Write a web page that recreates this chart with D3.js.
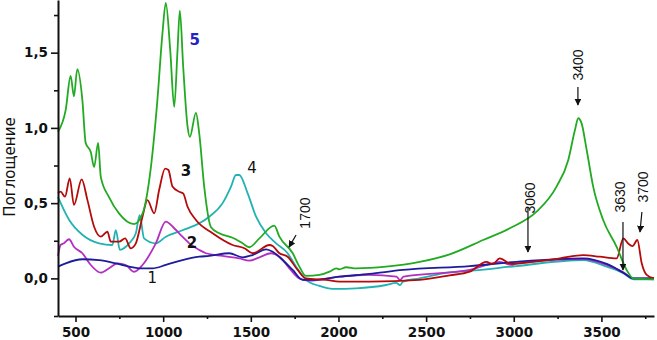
<!DOCTYPE html>
<html>
<head>
<meta charset="utf-8">
<script src="https://cdn.jsdelivr.net/npm/d3@7"></script>
<style>
  body { margin: 0; background: #fff; }
</style>
</head>
<body>
<div id="chart"></div>
<script>
// wavenumber (cm-1) / absorbance pairs
var wn1  = [400, 444, 539, 634, 730, 806, 863, 939, 1015, 1110, 1206, 1263, 1377, 1453, 1510, 1587, 1625, 1682, 1739, 1796, 1853, 2006, 2177, 2368, 2749, 3015, 3396, 3530, 3625, 3682, 3800];
var abs1 = [0.078, 0.10, 0.127, 0.122, 0.10, 0.078, 0.067, 0.067, 0.089, 0.122, 0.144, 0.149, 0.167, 0.14, 0.155, 0.193, 0.177, 0.122, 0.056, -0.01, -0.01, 0.011, 0.03, 0.056, 0.082, 0.11, 0.133, 0.096, 0.038, 0.0, 0.0];

var wn2  = [400, 415, 434, 463, 491, 539, 587, 644, 691, 739, 787, 834, 882, 958, 1015, 1063, 1110, 1149, 1206, 1244, 1339, 1434, 1491, 1549, 1615, 1663, 1720, 1777, 1834, 2006, 2177, 2330, 2351, 2372, 2749, 2844, 2920, 2987, 3015, 3396, 3530, 3625, 3682, 3800];
var abs2 = [0.15, 0.222, 0.233, 0.26, 0.21, 0.167, 0.089, 0.038, 0.067, 0.10, 0.089, 0.044, 0.089, 0.233, 0.377, 0.333, 0.277, 0.233, 0.189, 0.167, 0.149, 0.133, 0.118, 0.14, 0.167, 0.144, 0.067, 0.0, -0.015, 0.011, 0.023, 0.011, -0.01, 0.011, 0.056, 0.09, 0.11, 0.09, 0.10, 0.128, 0.09, 0.04, 0.0, 0.0];

var wn3  = [400, 415, 440, 467, 491, 535, 568, 606, 644, 682, 701, 749, 783, 815, 844, 882, 910, 949, 977, 1011, 1030, 1053, 1091, 1114, 1139, 1187, 1282, 1396, 1463, 1511, 1606, 1625, 1663, 1710, 1767, 1815, 1929, 2006, 2177, 2463, 2634, 2749, 2844, 2880, 2920, 2987, 3110, 3263, 3396, 3491, 3587, 3625, 3654, 3678, 3705, 3730, 3758, 3800];
var abs3 = [0.565, 0.576, 0.543, 0.665, 0.488, 0.658, 0.52, 0.343, 0.277, 0.31, 0.244, 0.244, 0.266, 0.20, 0.233, 0.41, 0.52, 0.433, 0.587, 0.73, 0.72, 0.61, 0.576, 0.565, 0.476, 0.388, 0.30, 0.222, 0.20, 0.167, 0.222, 0.215, 0.167, 0.144, 0.056, 0.0, -0.01, -0.022, -0.022, -0.01, 0.02, 0.045, 0.11, 0.095, 0.133, 0.096, 0.11, 0.133, 0.155, 0.144, 0.133, 0.266, 0.23, 0.215, 0.255, 0.10, 0.023, 0.0];

var wn4  = [400, 463, 539, 634, 710, 730, 753, 806, 844, 866, 891, 958, 1015, 1110, 1206, 1263, 1339, 1387, 1415, 1434, 1482, 1530, 1587, 1644, 1710, 1758, 1815, 1891, 1967, 2101, 2272, 2330, 2351, 2368, 2463, 2634, 2749, 3015, 3396, 3530, 3625, 3682, 3800];
var abs4 = [0.54, 0.39, 0.29, 0.233, 0.222, 0.32, 0.19, 0.233, 0.30, 0.42, 0.266, 0.233, 0.277, 0.32, 0.366, 0.41, 0.50, 0.61, 0.687, 0.687, 0.565, 0.41, 0.30, 0.233, 0.167, 0.078, -0.01, -0.05, -0.07, -0.066, -0.044, -0.03, -0.045, -0.022, 0.0, 0.04, 0.05, 0.082, 0.122, 0.078, 0.034, -0.006, -0.006];

var wn5  = [400, 444, 472, 491, 510, 539, 558, 587, 606, 629, 644, 691, 749, 834, 882, 930, 967, 996, 1015, 1040, 1063, 1082, 1095, 1114, 1139, 1152, 1187, 1206, 1234, 1273, 1320, 1396, 1453, 1491, 1549, 1634, 1663, 1739, 1777, 1815, 1891, 1949, 1987, 2006, 2044, 2101, 2272, 2463, 2634, 2825, 2977, 3130, 3244, 3311, 3349, 3368, 3387, 3416, 3453, 3510, 3587, 3644, 3682, 3800];
var abs5 = [0.975, 1.12, 1.345, 1.21, 1.39, 1.185, 0.90, 0.84, 0.74, 0.90, 0.675, 0.54, 0.43, 0.36, 0.43, 0.74, 1.185, 1.63, 1.83, 1.52, 1.14, 1.52, 1.78, 1.41, 1.01, 0.94, 1.10, 0.96, 0.61, 0.34, 0.30, 0.27, 0.233, 0.207, 0.266, 0.35, 0.277, 0.167, 0.078, 0.016, 0.023, 0.045, 0.067, 0.06, 0.074, 0.067, 0.078, 0.11, 0.16, 0.255, 0.333, 0.443, 0.61, 0.787, 0.986, 1.064, 1.03, 0.853, 0.61, 0.388, 0.21, 0.056, 0.0, -0.006];

var seriesColors = ['#1c1c9c', '#b32fc2', '#b40a0a', '#22b2b2', '#22aa22'];

var xTicks = [500, 1000, 1500, 2000, 2500, 3000, 3500];
var yTicks = [0, 0.5, 1.0, 1.5];

// curve numbers and peak marks
var curveLabels = [
    { text: '5', wn: 1150, a: 1.55, bold: true, color: '#2222c8' },
    { text: '3', wn: 1100, a: 0.68, bold: true, color: '#111' },
    { text: '4', wn: 1480, a: 0.70, bold: false, color: '#111' },
    { text: '2', wn: 1135, a: 0.20, bold: true, color: '#111' },
    { text: '1', wn: 910, a: -0.03, bold: false, color: '#111' }
];
var peakMarks = [
    { text: '1700', wn: 1810, a: 0.434, fromWn: 1758, fromA: 0.288, toWn: 1718, toA: 0.208 },
    { text: '3060', wn: 3092, a: 0.534, fromWn: 3081, fromA: 0.474, toWn: 3081, toA: 0.175 },
    { text: '3400', wn: 3366, a: 1.418, fromWn: 3366, fromA: 1.272, toWn: 3366, toA: 1.152 },
    { text: '3630', wn: 3606, a: 0.541, fromWn: 3623, fromA: 0.375, toWn: 3623, toA: 0.056 },
    { text: '3700', wn: 3737, a: 0.607, fromWn: 3731, fromA: 0.441, toWn: 3720, toA: 0.308 }
];

var width = 657, height = 340;

var svg = d3.select('#chart')
    .append('svg')
    .attr('width', width)
    .attr('height', height);

var xScale = d3.scaleLinear()
    .domain([400, 3800])
    .range([58, 654]);

var yScale = d3.scaleLinear()
    .domain([-0.25, 1.85])
    .range([316, 0]);

svg.append('defs').append('marker')
    .attr('id', 'arrow')
    .attr('viewBox', '0 0 10 10')
    .attr('refX', 9)
    .attr('refY', 5)
    .attr('markerWidth', 7)
    .attr('markerHeight', 7)
    .attr('markerUnits', 'userSpaceOnUse')
    .attr('orient', 'auto')
    .append('path')
    .attr('d', 'M0,0 L10,5 L0,10 Z')
    .attr('fill', '#111');

var line = d3.line()
    .x(d => xScale(d[0]))
    .y(d => yScale(d[1]))
    .curve(d3.curveMonotoneX);

var allWn = [wn1, wn2, wn3, wn4, wn5];
var allAbs = [abs1, abs2, abs3, abs4, abs5];
var drawOrder = [3, 1, 0, 2, 4];

for (let k = 0; k < drawOrder.length; k++) {
    var i = drawOrder[k];
    var pts = allWn[i].map((w, j) => [w, allAbs[i][j]]);
    svg.append('path')
        .datum(pts)
        .attr('d', line)
        .attr('fill', 'none')
        .attr('stroke', seriesColors[i])
        .attr('stroke-width', 1.8)
        .attr('stroke-linejoin', 'round');
}

// axes
var xAxis = svg.append('g')
    .attr('class', 'x-axis')
    .attr('transform', 'translate(0, 316)')
    .call(d3.axisBottom(xScale).tickValues(xTicks).tickSize(6).tickPadding(5).tickSizeOuter(0)
        .tickFormat(d3.format('d')));

svg.append('g')
    .attr('transform', 'translate(0, 316)')
    .call(d3.axisBottom(xScale).tickValues(d3.range(750, 3800, 500)).tickSize(3).tickFormat('').tickSizeOuter(0))
    .select('.domain').remove();

var yAxis = svg.append('g')
    .attr('class', 'y-axis')
    .attr('transform', 'translate(58, 0)')
    .call(d3.axisLeft(yScale).tickValues(yTicks).tickSize(7).tickPadding(3).tickSizeOuter(0)
        .tickFormat(d => d3.format('.1f')(d).replace('.', ',')));

svg.append('g')
    .attr('transform', 'translate(58, 0)')
    .call(d3.axisLeft(yScale).tickValues([-0.25, 0.25, 0.75, 1.25, 1.75]).tickSize(4).tickFormat('').tickSizeOuter(0))
    .select('.domain').remove();

svg.selectAll('.x-axis .domain, .y-axis .domain')
    .attr('stroke', '#111')
    .attr('stroke-width', 2);
svg.selectAll('.tick line')
    .attr('stroke', '#111')
    .attr('stroke-width', 1.6);
svg.selectAll('.x-axis text, .y-axis text')
    .attr('fill', '#111')
    .attr('font-family', 'DejaVu Sans')
    .attr('font-weight', 'bold')
    .attr('font-size', '13.5px');

svg.append('text')
    .attr('transform', 'translate(15, 167) rotate(-90)')
    .attr('text-anchor', 'middle')
    .attr('font-family', 'DejaVu Sans')
    .attr('font-size', '15px')
    .attr('fill', '#111')
    .text('Поглощение');

// curve numbers
svg.selectAll('.curve-label')
    .data(curveLabels)
    .enter()
    .append('text')
    .attr('class', 'curve-label')
    .attr('x', d => xScale(d.wn))
    .attr('y', d => yScale(d.a))
    .attr('font-family', 'DejaVu Sans')
    .attr('font-weight', d => d.bold ? 'bold' : 'normal')
    .attr('font-size', '15px')
    .attr('fill', d => d.color)
    .text(d => d.text);

// peak positions with arrows
svg.selectAll('.peak-arrow')
    .data(peakMarks)
    .enter()
    .append('line')
    .attr('class', 'peak-arrow')
    .attr('x1', d => xScale(d.fromWn))
    .attr('y1', d => yScale(d.fromA))
    .attr('x2', d => xScale(d.toWn))
    .attr('y2', d => yScale(d.toA))
    .attr('stroke', '#111')
    .attr('stroke-width', 1.2)
    .attr('marker-end', 'url(#arrow)');

svg.selectAll('.peak-label')
    .data(peakMarks)
    .enter()
    .append('text')
    .attr('class', 'peak-label')
    .attr('transform', d => 'translate(' + xScale(d.wn) + ', ' + yScale(d.a) + ') rotate(-90)')
    .attr('text-anchor', 'middle')
    .attr('dy', '0.35em')
    .attr('font-family', 'Liberation Sans')
    .attr('font-size', '14px')
    .attr('fill', '#111')
    .text(d => d.text);
</script>
</body>
</html>
